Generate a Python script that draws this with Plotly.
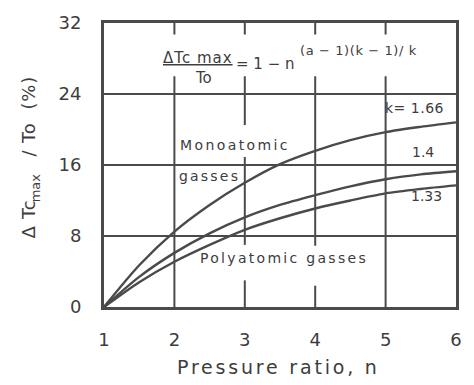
import plotly.graph_objects as go

# ---- data ----
n_vals = [1, 1.5, 2, 2.5, 3, 3.5, 4, 4.5, 5, 5.5, 6]
k166 = [0, 4.7, 8.5, 11.5, 14.0, 16.1, 17.6, 18.8, 19.7, 20.3, 20.8]
k140 = [0, 3.4, 6.1, 8.3, 10.1, 11.5, 12.6, 13.6, 14.4, 14.95, 15.3]
k133 = [0, 2.8, 5.1, 7.0, 8.7, 10.0, 11.1, 12.0, 12.8, 13.3, 13.7]
x_ticks = [1, 2, 3, 4, 5, 6]
y_ticks = [0, 8, 16, 24, 32]

INK = "#3d3d3d"
LINE = "#4a4a4a"
FONT = "DejaVu Sans"

W, H = 474, 385
L, R, T, B = 104, 13, 15, 78
PW, PH = W - L - R, H - T - B


def px(xp):
    return (xp - L) / PW


def py(yp):
    return (H - B - yp) / PH


fig = go.Figure()
for ys in (k166, k140, k133):
    fig.add_trace(go.Scatter(x=n_vals, y=ys, mode="lines",
                             line=dict(color=LINE, width=2.4, shape="spline", smoothing=0.8),
                             showlegend=False, hoverinfo="skip"))

# vertical grid pieces (gaps where the original has text)
vsegs = {
    2: [(30.7, 32), (0, 26.0)],
    3: [(30.7, 32), (20.5, 26.0), (7.0, 16.9), (0, 3.0)],
    4: [(30.7, 32), (6.9, 26.0), (0, 2.4)],
    5: [(30.7, 32), (0, 26.0)],
}
shapes = []
for xv, segs in vsegs.items():
    for y0, y1 in segs:
        shapes.append(dict(type="line", xref="x", yref="y", x0=xv, x1=xv, y0=y0, y1=y1,
                           line=dict(color=LINE, width=2), layer="below"))


def ann(text, xp, yp, size=14, ls=0, angle=0, xanchor="center"):
    t = f'<span style="letter-spacing:{ls}px">{text}</span>' if ls else text
    return dict(text=t, x=px(xp), y=py(yp), xref="paper", yref="paper",
                showarrow=False, textangle=angle, xanchor=xanchor, yanchor="middle",
                font=dict(family=FONT, size=size, color=INK))


annotations = [
    ann("<u>ΔTc max</u>", 199, 51, size=15, ls=1.0),
    ann("To", 205, 72, size=15),
    ann("= 1 − n", 300, 57, size=15, xanchor="right"),
    ann("(a − 1)(k − 1)/ k", 301, 43, size=13, ls=0.6, xanchor="left"),
    ann("Monoatomic", 237, 140, size=14, ls=2.4),
    ann("gasses", 211, 172, size=14, ls=2.2),
    ann("Polyatomic gasses", 287, 257, size=14, ls=2.3),
    ann("k= 1.66", 419, 102, size=14, ls=0.5),
    ann("1.4", 428, 148, size=14),
    ann("1.33", 431, 193, size=14),
    # y-axis title in three pieces (subscript "max" offset)
    ann("Δ Tc", 27, 217, size=18, angle=-90, ls=0.8),
    ann("max", 34, 184, size=13, angle=-90),
    ann("/ To  (%)", 27, 111, size=18, angle=-90, ls=0.8),
    ann("Pressure ratio, n", 281, 369, size=19, ls=2.8),
]

fig.update_layout(
    width=W, height=H,
    margin=dict(l=L, r=R, t=T, b=B),
    paper_bgcolor="white", plot_bgcolor="white",
    font=dict(family=FONT, color=INK),
    shapes=shapes, annotations=annotations,
    xaxis=dict(range=[1, 6], tickvals=x_ticks, ticktext=[str(v) for v in x_ticks],
               showgrid=False, zeroline=False, showline=True, mirror=True,
               linewidth=3, linecolor=LINE, ticks="", ticklabelstandoff=14,
               tickfont=dict(size=18, color=INK, family=FONT)),
    yaxis=dict(range=[0, 32], tickvals=y_ticks, ticktext=[str(v) for v in y_ticks],
               showgrid=True, gridcolor=LINE, gridwidth=2, zeroline=False,
               showline=True, mirror=True, linewidth=3, linecolor=LINE,
               ticks="", ticklabelstandoff=16,
               tickfont=dict(size=18, color=INK, family=FONT)),
)

fig.write_html("out.html")
